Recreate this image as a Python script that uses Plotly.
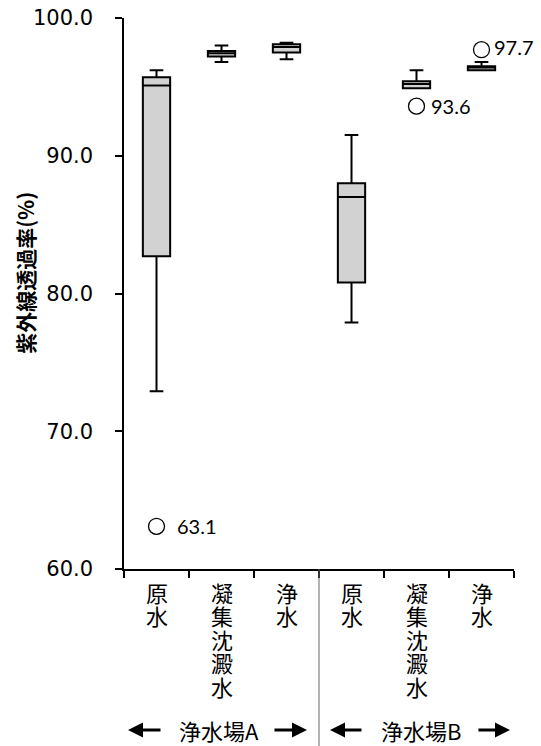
import plotly.graph_objects as go

categories = ["原水", "凝集沈澱水", "浄水", "原水", "凝集沈澱水", "浄水"]
positions = [0, 1, 2, 3, 4, 5]
lower = [72.9, 96.8, 97.0, 77.9, 94.9, 96.2]
q1 = [82.7, 97.2, 97.5, 80.8, 94.9, 96.2]
median = [95.1, 97.45, 97.9, 87.0, 95.2, 96.4]
q3 = [95.7, 97.6, 98.1, 88.0, 95.4, 96.5]
upper = [96.2, 98.0, 98.2, 91.5, 96.2, 96.8]
outlier_x = [0, 4, 5]
outlier_y = [63.1, 93.6, 97.7]
outlier_labels = ["63.1", "93.6", "97.7"]
plant_labels = ["浄水場A", "浄水場B"]
y_ticks = [60, 70, 80, 90, 100]
y_ticktext = ["60.0", "70.0", "80.0", "90.0", "100.0"]

fig = go.Figure()
fig.add_trace(go.Box(
    x=positions, q1=q1, median=median, q3=q3,
    lowerfence=lower, upperfence=upper,
    width=0.42, whiskerwidth=0.5,
    fillcolor="#d2d2d2", line=dict(color="black", width=2),
    boxpoints=False, showlegend=False, hoverinfo="skip"))
fig.add_trace(go.Scatter(
    x=outlier_x, y=outlier_y, mode="markers",
    marker=dict(symbol="circle-open", size=16, color="black", line=dict(width=1.3)),
    showlegend=False))

ann = []
shifts = [(18, 0), (12, 0), (10, 3)]
for x, y, t, (xs, ys) in zip(outlier_x, outlier_y, outlier_labels, shifts):
    ann.append(dict(x=x, y=y, xref="x", yref="y", text=t, showarrow=False,
                    xanchor="left", yanchor="middle", xshift=xs, yshift=ys,
                    font=dict(family="Lato", size=20, color="black")))
# vertical category labels, one glyph per line (big glyphs, tight line spacing)
for p, c in zip(positions, categories):
    txt = "<br>".join("<span style='font-size:22px'>%s</span>" % ch for ch in c)
    ann.append(dict(x=p, y=0, xref="x", yref="paper", text=txt, showarrow=False,
                    xanchor="center", yanchor="top", yshift=-5,
                    font=dict(family="Noto Sans CJK JP", size=18, color="black")))
for xc, t in zip([0.954, 4.069], plant_labels):
    ann.append(dict(x=xc, y=-0.292, xref="x", yref="paper", text=t, showarrow=False,
                    xanchor="center", yanchor="middle",
                    font=dict(family="Noto Sans CJK JP", size=22, color="black")))
for hx, axp in [(-0.438, 34), (2.315, -34), (2.669, 33), (5.438, -33)]:
    ann.append(dict(x=hx, y=-0.292, xref="x", yref="paper", text="", showarrow=True,
                    ax=axp, ay=0, arrowhead=2, arrowsize=1, arrowwidth=3, arrowcolor="black"))
ann.append(dict(x=0, y=81.5, xref="paper", yref="y", text="<b>紫外線透過率(%)</b>",
                showarrow=False, textangle=-90, xanchor="center", yanchor="middle",
                xshift=-99, font=dict(family="Noto Sans CJK JP", size=21, color="black")))

fig.update_layout(
    width=541, height=746,
    margin=dict(l=124, r=27, t=18, b=177, autoexpand=False),
    plot_bgcolor="white", paper_bgcolor="white",
    annotations=ann,
    shapes=[dict(type="line", xref="x", yref="paper", x0=2.5, x1=2.5, y0=0, y1=-0.33,
                 line=dict(color="#666666", width=1))],
    xaxis=dict(range=[-0.5, 5.5], showline=True, linecolor="black", linewidth=1.5,
               tickvals=[-0.5, 0.5, 1.5, 2.5, 3.5, 4.5, 5.5], showticklabels=False,
               ticks="outside", ticklen=7, tickcolor="black", tickwidth=1.5,
               showgrid=False, zeroline=False),
    yaxis=dict(range=[60, 100], showline=True, linecolor="black", linewidth=1.5,
               tickvals=y_ticks, ticktext=y_ticktext, ticks="outside", ticklen=7,
               tickcolor="black", tickwidth=1.5, ticklabelstandoff=18,
               tickfont=dict(family="DejaVu Sans", size=21, color="black"),
               showgrid=False, zeroline=False),
)
fig.write_html("out.html")
